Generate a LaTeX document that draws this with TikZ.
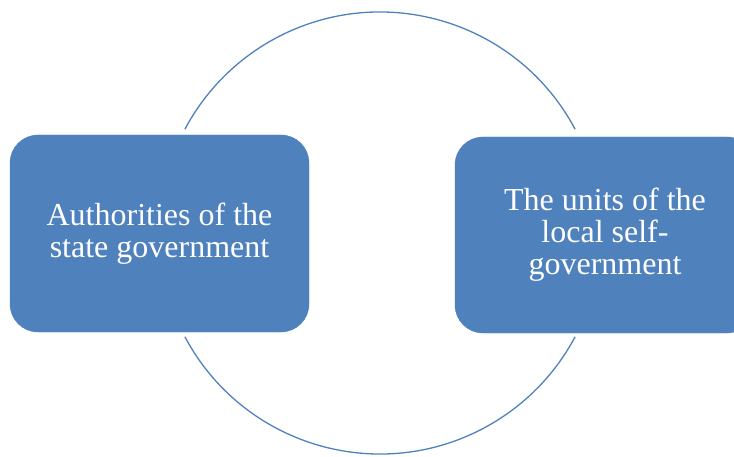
\documentclass[tikz,border=0pt]{standalone}
\usepackage{fontspec}
\setmainfont{Liberation Serif}
\definecolor{boxblue}{HTML}{4F81BD}
\begin{document}
\begin{tikzpicture}[x=1pt,y=1pt,
    unitbox/.style={draw=boxblue,fill=boxblue,rounded corners=28pt,
      text=white,align=center,inner sep=0pt,
      font=\fontsize{32}{32}\selectfont},
    ring/.style={draw=boxblue,line width=1.3pt}]
      \clip (0,0) rectangle (734,456);
      \coordinate (hub) at (380,223);
      \node[unitbox,minimum width=299,minimum height=197] (state) at (159.5,222.5)
        {Authorities of the\\state government};
      \node[unitbox,minimum width=300,minimum height=196] (local) at (605,221)
        {The units of the\\local self-\\government};
      \begin{scope}[-]
        \draw[ring] ([shift={(28:221)}]hub) arc[start angle=28,end angle=152,radius=221];
        \draw[ring] ([shift={(208:221)}]hub) arc[start angle=208,end angle=332,radius=221];
      \end{scope}
    \end{tikzpicture}
\end{document}
